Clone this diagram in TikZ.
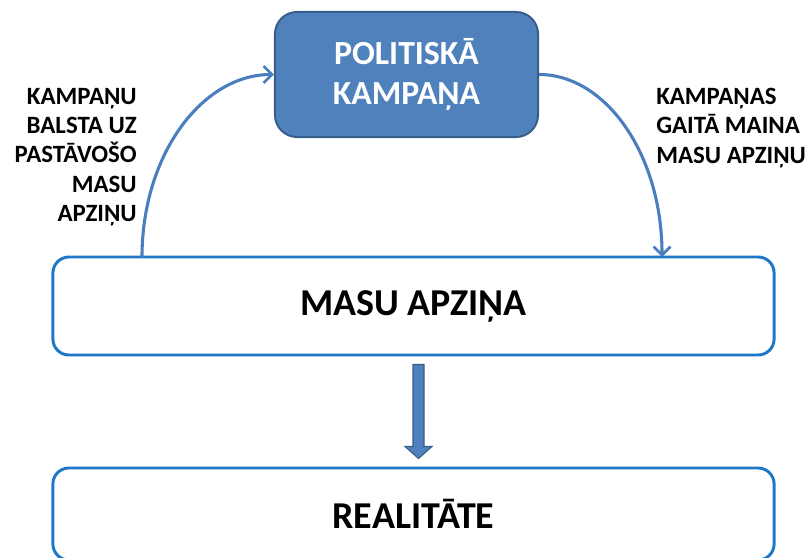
\documentclass[tikz,border=0pt]{standalone}
\usepackage{fontspec}
\setmainfont{Carlito}
\usetikzlibrary{arrows.meta,positioning}
\definecolor{campblue}{RGB}{79,129,189}
\definecolor{campborder}{RGB}{56,93,138}
\definecolor{boxblue}{RGB}{31,119,200}
\definecolor{curveblue}{RGB}{74,126,190}

\begin{document}
\begin{tikzpicture}[x=0.025cm, y=-0.025cm,
    mainbox/.style={rectangle, draw=boxblue, line width=2.1pt, fill=white, rounded corners=0.4cm, minimum width=18.025cm, align=center, font=\fontsize{27}{32}\selectfont\bfseries},
    sidetext/.style={inner sep=0pt, font=\fontsize{17.7}{20.8}\selectfont\bfseries},
    curvearrow/.style={draw=curveblue, line width=2.2pt, -{Straight Barb[length=6pt,width=12pt,line width=2pt]}}]
  \useasboundingbox (0,0) rectangle (808,558);
        \node[rectangle, draw=campborder, line width=1.4pt, fill=campblue, text=white, rounded corners=0.55cm, minimum width=6.575cm, minimum height=3.125cm, align=center, font=\fontsize{24}{29}\selectfont\bfseries] (campaign) at (406.5,74.5) {POLITISKĀ\\KAMPAŅA};
        \node[mainbox, minimum height=2.45cm] (awareness) at (413.5,306) {MASU APZIŅA};
        \node[mainbox, minimum height=2.3cm, below=2.75cm of awareness] (reality) {REALITĀTE};

        \node[sidetext, align=right, anchor=north east] (supports) at (137,88) {KAMPAŅU\\BALSTA UZ\\PASTĀVOŠO\\MASU\\APZIŅU};
        \node[sidetext, align=left, anchor=north west] (changes) at (656,88) {KAMPAŅAS\\GAITĀ MAINA\\MASU APZIŅU};

        \coordinate (upstart) at (142,257);
        \coordinate (downend) at (662,257);
        \draw[curvearrow] (upstart) .. controls +(0,-102) and +(-72,0) .. (campaign.west);
        \draw[curvearrow] (campaign.east) .. controls +(67,0) and +(0,-102) .. (downend);

        \draw[fill=campblue, draw=campborder, line width=0.8pt] (awareness.south) ++(-0.5,8) -- ++(11,0) -- ++(0,82) -- ++(8,0) -- ++(-13.5,12) -- ++(-13.5,-12) -- ++(8,0) -- cycle;
\end{tikzpicture}
\end{document}
